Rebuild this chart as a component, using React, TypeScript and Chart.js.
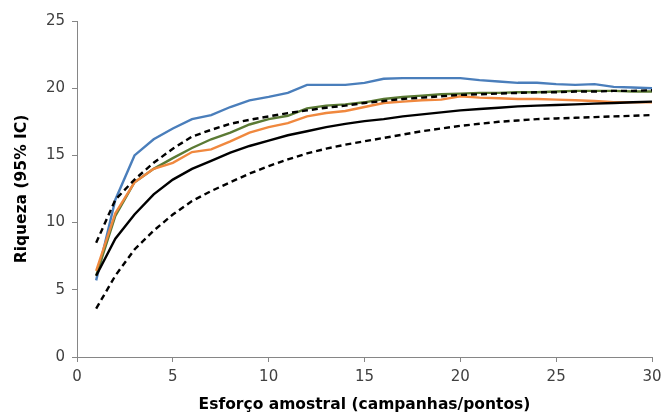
import React, { useEffect, useRef } from "react";
import { Chart, registerables } from "chart.js";

Chart.register(...registerables);

const xValues = Array.from({ length: 30 }, (_, i) => i + 1);

const blue = [5.7, 11.7, 15.0, 16.2, 17.0, 17.7, 18.0, 18.6, 19.1, 19.35, 19.65, 20.25, 20.25, 20.25, 20.4, 20.7, 20.75, 20.75, 20.75, 20.75, 20.6, 20.5, 20.4, 20.4, 20.3, 20.25, 20.3, 20.1, 20.05, 20.0];
const green = [6.05, 10.5, 13.0, 14.0, 14.8, 15.55, 16.2, 16.7, 17.3, 17.7, 17.95, 18.5, 18.7, 18.8, 18.95, 19.2, 19.35, 19.45, 19.55, 19.6, 19.65, 19.65, 19.7, 19.7, 19.75, 19.8, 19.8, 19.8, 19.75, 19.75];
const orange = [6.4, 10.7, 13.0, 14.0, 14.45, 15.25, 15.45, 16.05, 16.7, 17.1, 17.4, 17.9, 18.15, 18.3, 18.6, 18.9, 19.0, 19.1, 19.15, 19.4, 19.3, 19.25, 19.2, 19.2, 19.15, 19.1, 19.05, 18.95, 18.95, 18.95];
const mean = [6.05, 8.8, 10.6, 12.1, 13.2, 14.0, 14.6, 15.2, 15.7, 16.1, 16.5, 16.8, 17.1, 17.35, 17.55, 17.7, 17.9, 18.05, 18.2, 18.35, 18.45, 18.55, 18.65, 18.7, 18.75, 18.8, 18.85, 18.9, 18.95, 19.0];
const upper = [8.5, 11.7, 13.2, 14.45, 15.5, 16.4, 16.9, 17.35, 17.65, 17.9, 18.15, 18.35, 18.55, 18.7, 18.9, 19.05, 19.2, 19.3, 19.4, 19.5, 19.55, 19.6, 19.65, 19.7, 19.7, 19.75, 19.75, 19.8, 19.8, 19.85];
const lower = [3.6, 6.05, 8.0, 9.4, 10.6, 11.6, 12.35, 13.0, 13.65, 14.2, 14.7, 15.15, 15.5, 15.8, 16.05, 16.3, 16.55, 16.8, 17.0, 17.2, 17.35, 17.5, 17.6, 17.7, 17.75, 17.8, 17.85, 17.9, 17.95, 18.0];

const xTitle = "Esforço amostral (campanhas/pontos)";
const yTitle = "Riqueza (95% IC)";

const toPts = (arr: number[]) => arr.map((y, i) => ({ x: xValues[i], y }));

const W = 664;
const H = 414;

export default function App() {
  const ref = useRef<HTMLCanvasElement>(null);
  useEffect(() => {
    if (!ref.current) return;
    const fam = "'DejaVu Sans', Verdana, sans-serif";
    const tickFont = { family: fam, size: 15 };
    const titleFont = { family: fam, size: 15.5, weight: "bold" as const };
    const line = (data: number[], color: string, dash: number[] = []) => ({
      data: toPts(data),
      borderColor: color,
      backgroundColor: color,
      borderWidth: 2.4,
      borderDash: dash,
      pointRadius: 0,
      tension: 0,
      fill: false,
    });
    const chart = new Chart(ref.current, {
      type: "line",
      data: {
        datasets: [
          line(lower, "#000000", [6, 4]),
          line(upper, "#000000", [6, 4]),
          line(mean, "#000000"),
          line(orange, "#F0883E"),
          line(green, "#5B7A34"),
          line(blue, "#4A7EBB"),
        ],
      },
      options: {
        animation: false,
        responsive: false,
        maintainAspectRatio: false,
        layout: { padding: { left: 0, right: 12, top: 21, bottom: 0 } },
        plugins: { legend: { display: false }, tooltip: { enabled: false } },
        scales: {
          x: {
            type: "linear",
            min: 0,
            max: 30,
            ticks: { stepSize: 5, color: "#404040", font: tickFont, padding: 6 },
            grid: { display: true, drawOnChartArea: false, drawTicks: true, tickLength: 5, color: "#868686" },
            border: { color: "#868686", width: 1 },
            title: { display: true, text: xTitle, color: "#000", font: titleFont, padding: { top: 4, bottom: 0 } },
            afterFit: (s: any) => { s.height = H - 357; s.paddingRight = 0; s.paddingLeft = 0; },
          },
          y: {
            min: 0,
            max: 25,
            ticks: { stepSize: 5, color: "#404040", font: tickFont, padding: 7 },
            grid: { display: true, drawOnChartArea: false, drawTicks: true, tickLength: 5, color: "#868686" },
            border: { color: "#868686", width: 1 },
            title: { display: true, text: yTitle, color: "#000", font: titleFont, padding: { top: 13, bottom: 0 } },
            afterFit: (s: any) => { s.width = 77; s.paddingTop = 0; s.paddingBottom = 0; },
          },
        },
      },
    });
    return () => chart.destroy();
  }, []);
  return (
    <div style={{ position: "absolute", left: 0, top: 0, width: W, height: H, background: "#fff" }}>
      <canvas ref={ref} width={W} height={H} style={{ display: "block" }} />
    </div>
  );
}
